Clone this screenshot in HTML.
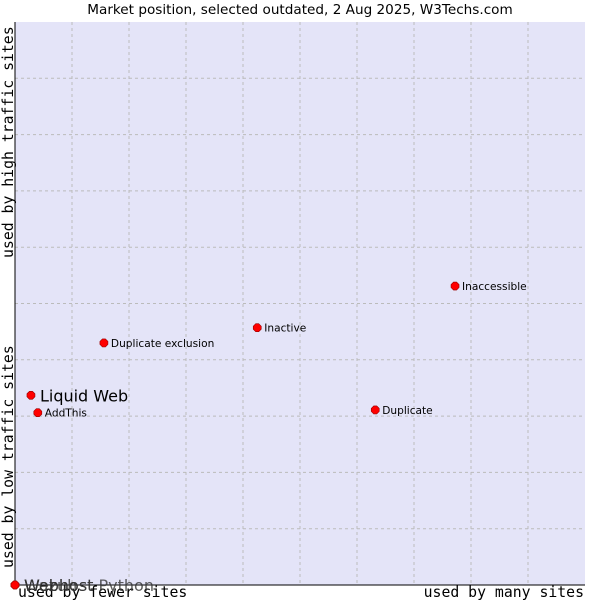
<!DOCTYPE html>
<html><head><meta charset="utf-8"><style>
body{margin:0;background:#fff;width:600px;height:600px;overflow:hidden;font-family:"DejaVu Sans","Liberation Sans",sans-serif}
</style></head><body>
<svg id="chart" width="600" height="600" xmlns="http://www.w3.org/2000/svg">
<text x="300" y="14" text-anchor="middle" font-size="13.6" fill="#000">Market position, selected outdated, 2 Aug 2025, W3Techs.com</text>
<rect x="15" y="22" width="570" height="563" fill="#e4e4f8"/>
<g id="grid"></g>
<line x1="15" y1="22" x2="15" y2="585" stroke="#000"/>
<line x1="15" y1="585" x2="585" y2="585" stroke="#000"/>
<text x="18" y="597" font-family="DejaVu Sans Mono,Liberation Mono,monospace" font-size="14.8">used by fewer sites</text>
<text x="584" y="597" text-anchor="end" font-family="DejaVu Sans Mono,Liberation Mono,monospace" font-size="14.8">used by many sites</text>
<text transform="translate(13,568) rotate(-90)" font-family="DejaVu Sans Mono,Liberation Mono,monospace" font-size="14.8">used by low traffic sites</text>
<text transform="translate(13,258) rotate(-90)" font-family="DejaVu Sans Mono,Liberation Mono,monospace" font-size="14.8">used by high traffic sites</text>
<g id="points"></g>
</svg>
<script>
const labels=["Liquid Web","AddThis","Duplicate exclusion","Inactive","Inaccessible","Duplicate","Webhost Python","Webhost","Wazuh"];
const xs=[2.8,4.0,15.6,42.5,77.2,63.2,0,0,0];
const ys=[33.7,30.6,43.0,45.7,53.1,31.1,0,0,0];
const big=[true,false,false,false,false,false,true,true,true];
const L=15,R=585,T=22,B=585;
const sx=v=>L+v/100*(R-L), sy=v=>B-v/100*(B-T);
const NS="http://www.w3.org/2000/svg";
const grid=document.getElementById('grid');
for(let i=1;i<10;i++){
 const x=L+i*(R-L)/10,y=T+i*(B-T)/10;
 const a=document.createElementNS(NS,'line');
 
 
 a.setAttribute('x1',x);a.setAttribute('x2',x);a.setAttribute('y1',T);a.setAttribute('y2',B);
 a.setAttribute('stroke','#bbb');a.setAttribute('stroke-dasharray','3,3');grid.appendChild(a);
 const b=document.createElementNS(NS,'line');
 
 
 b.setAttribute('x1',L);b.setAttribute('x2',R);b.setAttribute('y1',y);b.setAttribute('y2',y);
 b.setAttribute('stroke','#bbb');b.setAttribute('stroke-dasharray','3,3');grid.appendChild(b);
}
const pts=document.getElementById('points');
labels.forEach((n,i)=>{
 const x=sx(xs[i]),y=sy(ys[i]);
 const d=document.createElementNS(NS,'path');
 
 
 d.setAttribute('d',`M${x-4},${y-1.5}L${x-1.5},${y-4}L${x+1.5},${y-4}L${x+4},${y-1.5}L${x+4},${y+1.5}L${x+1.5},${y+4}L${x-1.5},${y+4}L${x-4},${y+1.5}Z`);
 d.setAttribute('fill','#f00');d.setAttribute('stroke','#900');d.setAttribute('stroke-width','0.6');
 pts.appendChild(d);
 const t=document.createElementNS(NS,'text');
 
 
 t.setAttribute('x',x+(big[i]?9:7));t.setAttribute('y',y+(big[i]?6:4));
 t.setAttribute('font-size',big[i]?'16':'10.6');
 t.setAttribute('fill',ys[i]===0?'#333':'#000');
 if(ys[i]===0)t.setAttribute('fill-opacity','0.8');
 t.textContent=n;pts.appendChild(t);
});
</script>
</body></html>
